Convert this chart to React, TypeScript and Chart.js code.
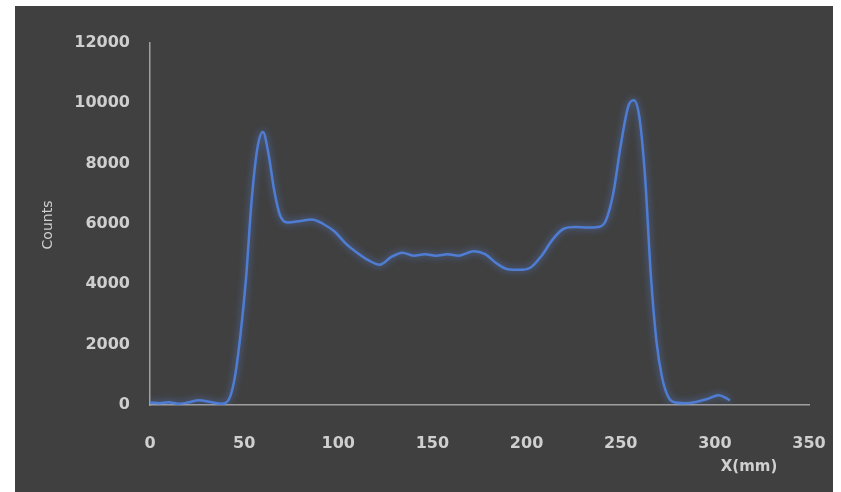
import React, { useEffect, useRef } from "react";
import { Chart, registerables } from "chart.js";

Chart.register(...registerables);

const positionsMm: number[] = [
  0, 5, 10, 15, 20, 26, 32, 38, 42, 45, 48, 51, 54, 57, 60, 63, 66, 69, 73, 80,
  86, 92, 98, 104, 110, 116, 122, 128, 134, 140, 146, 152, 158, 164, 172, 178,
  184, 190, 196, 202, 208, 214, 220, 226, 232, 238, 242, 246, 250, 254, 257,
  260, 263, 266, 269, 272, 275, 278, 284, 290, 296, 302, 305, 308,
];
const counts: number[] = [
  80, 60, 90, 40, 80, 160, 100, 40, 200, 900, 2300, 4200, 6800, 8500, 9050,
  8300, 7100, 6300, 6050, 6100, 6150, 6000, 5750, 5350, 5050, 4800, 4650, 4900,
  5050, 4950, 5000, 4950, 5000, 4950, 5100, 5000, 4700, 4500, 4480, 4550, 4950,
  5500, 5850, 5900, 5880, 5900, 6100, 7000, 8600, 9900, 10100, 9500, 7500,
  4300, 2100, 900, 300, 100, 60, 100, 200, 320, 260, 150,
];
const xTicks: number[] = [0, 50, 100, 150, 200, 250, 300, 350];
const yTicks: number[] = [0, 2000, 4000, 6000, 8000, 10000, 12000];
const xTitle = "X(mm)";
const yTitle = "Counts";

const glowPlugin = {
  id: "glow",
  beforeDatasetDraw(chart: any) {
    const ctx = chart.ctx;
    ctx.save();
    ctx.shadowColor = "rgba(90,140,240,0.7)";
    ctx.shadowBlur = 7;
  },
  afterDatasetDraw(chart: any) {
    chart.ctx.restore();
  },
};

const titlesPlugin = {
  id: "axisTitles",
  afterDraw(chart: any) {
    const ctx = chart.ctx;
    const area = chart.chartArea;
    ctx.save();
    ctx.fillStyle = "#cfcfcf";
    ctx.textAlign = "center";
    ctx.textBaseline = "middle";
    ctx.font = "bold 15px 'DejaVu Sans'";
    ctx.fillText(xTitle, area.right - 60, area.bottom + 62);
    ctx.translate(33, area.top + 182);
    ctx.rotate(-Math.PI / 2);
    ctx.font = "14px 'DejaVu Sans'";
    ctx.fillText(yTitle, 0, 0);
    ctx.restore();
  },
};

export default function App() {
  const ref = useRef<HTMLCanvasElement | null>(null);
  useEffect(() => {
    if (!ref.current) return;
    const data = positionsMm.map((x, i) => ({ x, y: counts[i] }));
    const chart = new Chart(ref.current, {
      type: "line",
      data: {
        datasets: [
          {
            data,
            borderColor: "#4f7dd4",
            borderWidth: 2.5,
            pointRadius: 0,
            cubicInterpolationMode: "monotone",
            fill: false,
          },
        ],
      },
      options: {
        animation: false,
        responsive: false,
        maintainAspectRatio: false,
        layout: { padding: { left: 0, top: 37, right: 24, bottom: 0 } },
        plugins: {
          legend: { display: false },
          tooltip: { enabled: false },
          title: { display: false },
        },
        scales: {
          x: {
            type: "linear",
            min: 0,
            max: 350,
            afterBuildTicks: (s: any) => {
              s.ticks = xTicks.map((v) => ({ value: v }));
            },
            afterFit: (s: any) => {
              s.height = 87;
              s.paddingLeft = 0;
              s.paddingRight = 0;
            },
            grid: { display: false, drawTicks: false },
            border: { display: true, color: "#a0a0a0", width: 1.5 },
            ticks: {
              color: "#cfcfcf",
              padding: 29,
              maxRotation: 0,
              callback: (v: any) => String(v),
              font: { family: "'DejaVu Sans'", size: 16, weight: "bold" },
            },
          },
          y: {
            type: "linear",
            min: 0,
            max: 12000,
            afterBuildTicks: (s: any) => {
              s.ticks = yTicks.map((v) => ({ value: v }));
            },
            afterFit: (s: any) => {
              s.width = 135;
            },
            grid: { display: false, drawTicks: false },
            border: { display: true, color: "#a0a0a0", width: 1.5 },
            ticks: {
              color: "#cfcfcf",
              padding: 20,
              callback: (v: any) => String(v),
              font: { family: "'DejaVu Sans'", size: 16, weight: "bold" },
            },
          },
        },
      },
      plugins: [glowPlugin, titlesPlugin],
    } as any);
    return () => chart.destroy();
  }, []);

  return (
    <div
      style={{
        position: "fixed",
        left: 0,
        top: 0,
        width: 841,
        height: 492,
        background: "#ffffff",
      }}
    >
      <div
        style={{
          position: "absolute",
          left: 15,
          top: 6,
          width: 818,
          height: 486,
          background: "#404040",
        }}
      >
        <canvas ref={ref} width={818} height={486} style={{ display: "block" }} />
      </div>
    </div>
  );
}
